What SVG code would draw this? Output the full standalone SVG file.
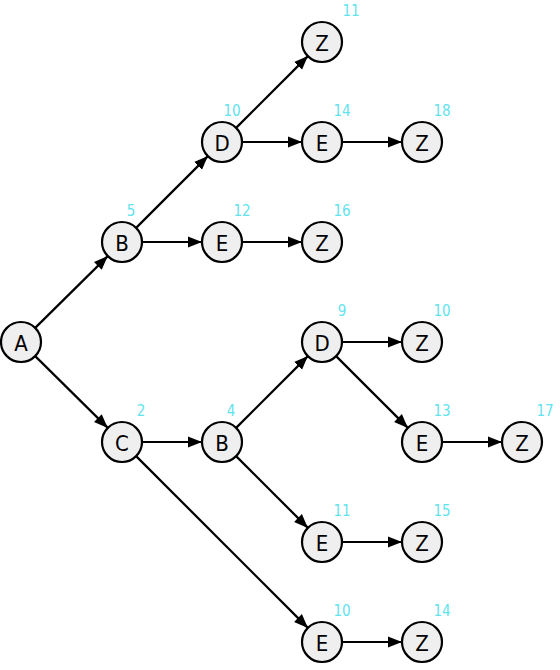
<svg xmlns="http://www.w3.org/2000/svg" width="560" height="670" viewBox="0 0 560 670">
<style>
.n circle{fill:#efefef;stroke:#000;stroke-width:2.2}
.n text.t{font-family:"DejaVu Sans",sans-serif;font-stretch:condensed;font-size:22px;fill:#000;text-anchor:middle;dominant-baseline:central}
.n text.l{font-family:"DejaVu Sans",sans-serif;font-stretch:condensed;font-size:15px;fill:#5fe3ee;text-anchor:middle;dominant-baseline:central}
#edges line{stroke:#000;stroke-width:2.2;marker-end:url(#ah)}
</style>
<defs>
<marker id="ah" markerUnits="userSpaceOnUse" markerWidth="15" markerHeight="12" refX="14" refY="6" orient="auto">
<path d="M0,0.5 L14,6 L0,11.5 z" fill="#000"/>
</marker>
</defs>
<rect width="560" height="670" fill="#fff"/>
<g id="edges">
<line x1="35.2" y1="327.9" x2="107.8" y2="256.1"/>
<line x1="35.2" y1="356.1" x2="107.8" y2="427.9"/>
<line x1="136.1" y1="227.9" x2="207.9" y2="156.1"/>
<line x1="142" y1="242" x2="202" y2="242"/>
<line x1="236.1" y1="127.9" x2="307.9" y2="56.1"/>
<line x1="242" y1="142" x2="302" y2="142"/>
<line x1="342" y1="142" x2="402" y2="142"/>
<line x1="242" y1="242" x2="302" y2="242"/>
<line x1="142" y1="442" x2="202" y2="442"/>
<line x1="136.1" y1="456.1" x2="307.9" y2="627.9"/>
<line x1="236.1" y1="427.9" x2="307.9" y2="356.1"/>
<line x1="236.1" y1="456.1" x2="307.9" y2="527.9"/>
<line x1="342" y1="342" x2="402" y2="342"/>
<line x1="336.1" y1="356.1" x2="407.9" y2="427.9"/>
<line x1="442" y1="442" x2="502" y2="442"/>
<line x1="342" y1="542" x2="402" y2="542"/>
<line x1="342" y1="642" x2="402" y2="642"/>
</g>
<g id="nA" class="n"><circle cx="21" cy="342" r="20"/><text class="t" x="21" y="343">A</text></g>
<g id="nB1" class="n"><circle cx="122" cy="242" r="20"/><text class="t" x="122" y="243">B</text><text class="l" x="131" y="211">5</text></g>
<g id="nD1" class="n"><circle cx="222" cy="142" r="20"/><text class="t" x="222" y="143">D</text><text class="l" x="232" y="111">10</text></g>
<g id="nZ1" class="n"><circle cx="322" cy="42" r="20"/><text class="t" x="322" y="43">Z</text><text class="l" x="351" y="11">11</text></g>
<g id="nE1" class="n"><circle cx="322" cy="142" r="20"/><text class="t" x="322" y="143">E</text><text class="l" x="342" y="111">14</text></g>
<g id="nZ2" class="n"><circle cx="422" cy="142" r="20"/><text class="t" x="422" y="143">Z</text><text class="l" x="442" y="111">18</text></g>
<g id="nE2" class="n"><circle cx="222" cy="242" r="20"/><text class="t" x="222" y="243">E</text><text class="l" x="242" y="211">12</text></g>
<g id="nZ3" class="n"><circle cx="322" cy="242" r="20"/><text class="t" x="322" y="243">Z</text><text class="l" x="342" y="211">16</text></g>
<g id="nC" class="n"><circle cx="122" cy="442" r="20"/><text class="t" x="122" y="443">C</text><text class="l" x="141" y="411">2</text></g>
<g id="nB2" class="n"><circle cx="222" cy="442" r="20"/><text class="t" x="222" y="443">B</text><text class="l" x="231" y="411">4</text></g>
<g id="nD2" class="n"><circle cx="322" cy="342" r="20"/><text class="t" x="322" y="343">D</text><text class="l" x="342" y="311">9</text></g>
<g id="nZ4" class="n"><circle cx="422" cy="342" r="20"/><text class="t" x="422" y="343">Z</text><text class="l" x="442" y="311">10</text></g>
<g id="nE3" class="n"><circle cx="422" cy="442" r="20"/><text class="t" x="422" y="443">E</text><text class="l" x="442" y="411">13</text></g>
<g id="nZ5" class="n"><circle cx="522" cy="442" r="20"/><text class="t" x="522" y="443">Z</text><text class="l" x="545" y="411">17</text></g>
<g id="nE4" class="n"><circle cx="322" cy="542" r="20"/><text class="t" x="322" y="543">E</text><text class="l" x="342" y="511">11</text></g>
<g id="nZ6" class="n"><circle cx="422" cy="542" r="20"/><text class="t" x="422" y="543">Z</text><text class="l" x="442" y="511">15</text></g>
<g id="nE5" class="n"><circle cx="322" cy="642" r="20"/><text class="t" x="322" y="643">E</text><text class="l" x="342" y="611">10</text></g>
<g id="nZ7" class="n"><circle cx="422" cy="642" r="20"/><text class="t" x="422" y="643">Z</text><text class="l" x="442" y="611">14</text></g>
</svg>
